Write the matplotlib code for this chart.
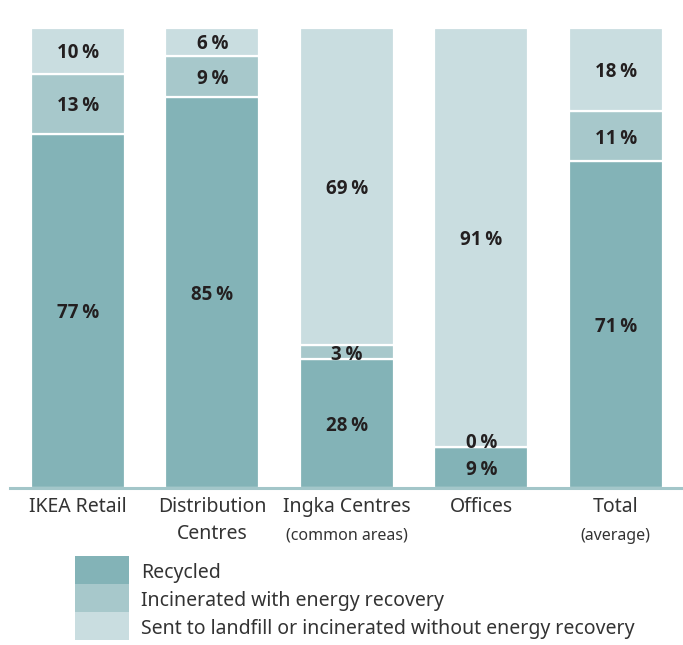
import matplotlib
matplotlib.use("Agg")
import matplotlib.pyplot as plt
from matplotlib.patches import Rectangle
from matplotlib import font_manager as fm
import numpy as np

categories = ["IKEA Retail", "Distribution\nCentres", "Ingka Centres", "Offices", "Total"]
subtitles = ["", "", "(common areas)", "", "(average)"]
series_names = ["Recycled", "Incinerated with energy recovery",
                "Sent to landfill or incinerated without energy recovery"]
recycled = [77, 85, 28, 9, 71]
incinerated = [13, 9, 3, 0, 11]
landfill = [10, 6, 69, 91, 18]
colors = ["#83b3b7", "#a7c8cb", "#c9dde0"]

plt.rcParams['font.family'] = ['Noto Sans', 'DejaVu Sans']

bold_path = None
for f in fm.fontManager.ttflist:
    if f.fname.endswith("OpenSans-Bold.ttf"):
        bold_path = f.fname
        break
if bold_path:
    bold_fp = fm.FontProperties(fname=bold_path, size=13.5)
else:
    bold_fp = fm.FontProperties(family="DejaVu Sans", weight="bold", size=12.5)

W, H = 683, 645
fig = plt.figure(figsize=(W/100, H/100), dpi=100)
ax = fig.add_axes([10/W, 1-488/H, 1-10/W, 460/H])

x = np.arange(len(categories))
series = [recycled, incinerated, landfill]
bottom = np.zeros(len(categories))
for vals, col in zip(series, colors):
    vals = np.array(vals, dtype=float)
    ax.bar(x, vals, bottom=bottom, width=0.7, color=col, edgecolor="white",
           linewidth=1.6, zorder=2)
    for xi, v, b in zip(x, vals, bottom):
        y = b + v/2 if v > 0 else b + 1.3
        ax.text(xi, y, f"{int(v)}\u2009%", ha="center", va="center_baseline",
                fontproperties=bold_fp, color="#231f20", zorder=3)
    bottom += vals

ax.set_xlim(-0.505, 4.5)
ax.set_ylim(0, 100)
ax.axhline(0, color="#a3c6c9", linewidth=2.2, zorder=4, clip_on=False)
for s in ax.spines.values():
    s.set_visible(False)
ax.set_yticks([])
ax.set_xticks([])
for xi, cat, sub in zip(x, categories, subtitles):
    ax.text(xi, -2.0, cat, ha="center", va="top", fontsize=14, color="#333333",
            linespacing=1.48)
    if sub:
        ax.text(xi, -8.6, sub, ha="center", va="top", fontsize=11.5, color="#333333")

# legend
lx, lw, lh, ly0 = 75, 54, 28, 556
for i, (name, col) in enumerate(zip(series_names, colors)):
    y = ly0 + i*lh
    fig.add_artist(Rectangle((lx/W, 1-(y+lh)/H), lw/W, lh/H, transform=fig.transFigure,
                             facecolor=col, edgecolor="none"))
    fig.text(141/W, 1-(y+lh/2+3)/H, name, ha="left", va="center", fontsize=14,
             color="#333333")

fig.savefig("out.png", dpi=100)
